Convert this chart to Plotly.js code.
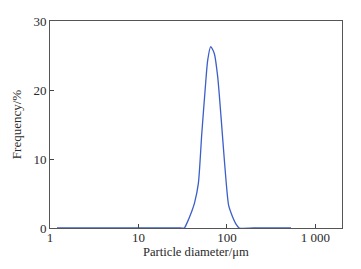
<!DOCTYPE html>
<html><head><meta charset="utf-8">
<script src="https://cdn.plot.ly/plotly-3.0.1.min.js"></script>
<style>html,body{margin:0;padding:0;background:#fff}#c{width:361px;height:269px}</style>
</head><body><div id="c"></div>
<script>
const diameter = [1.2, 5, 10, 20, 30, 33, 35, 40, 43, 47.6, 52, 56.7, 60.6, 65.6, 72, 78.7, 85.8, 93.5, 104.5, 116, 129, 138, 200, 530];
const frequency = [0, 0, 0, 0, 0, 0, 0.6, 2.4, 3.6, 6.5, 13.7, 20, 24.3, 26.3, 25.3, 21.9, 16.1, 9.9, 3.3, 1.6, 0.4, 0, 0, 0];
const xTickVals = [1, 10, 100, 1000];
const xTickText = ['1', '10', '100', '1 000'];
const yTickVals = [0, 10, 20, 30];

const font = {family: 'Liberation Serif, Times New Roman, serif', size: 13, color: '#2a2a2a'};
Plotly.newPlot('c', [{
  x: diameter, y: frequency, type: 'scatter', mode: 'lines',
  line: {color: '#3b5fc9', width: 1.3, shape: 'spline', smoothing: 0.6},
  hoverinfo: 'skip'
}], {
  width: 361, height: 269,
  margin: {l: 50, r: 19, t: 21, b: 41},
  paper_bgcolor: '#fff', plot_bgcolor: '#fff',
  font: font,
  showlegend: false,
  xaxis: {
    type: 'log', range: [0, Math.log10(2000)],
    tickvals: xTickVals, ticktext: xTickText,
    ticks: 'inside', ticklen: 4, tickcolor: '#444',
    ticklabelstandoff: -3,
    showline: true, linecolor: '#555', linewidth: 1, mirror: true,
    showgrid: false, zeroline: false
  },
  yaxis: {
    range: [0, 30],
    tickvals: yTickVals,
    ticks: 'inside', ticklen: 4, tickcolor: '#444',
    showline: true, linecolor: '#555', linewidth: 1, mirror: true,
    showgrid: false, zeroline: false,
    title: {text: 'Frequency/%', font: font, standoff: 8}
  },
  annotations: [{
    text: 'Particle diameter/μm', xref: 'paper', yref: 'paper',
    x: 0.5, y: -0.116, xanchor: 'center', yanchor: 'middle',
    showarrow: false, font: {family: font.family, size: 12.6, color: font.color}
  }]
}, {displayModeBar: false, staticPlot: true});
</script></body></html>
